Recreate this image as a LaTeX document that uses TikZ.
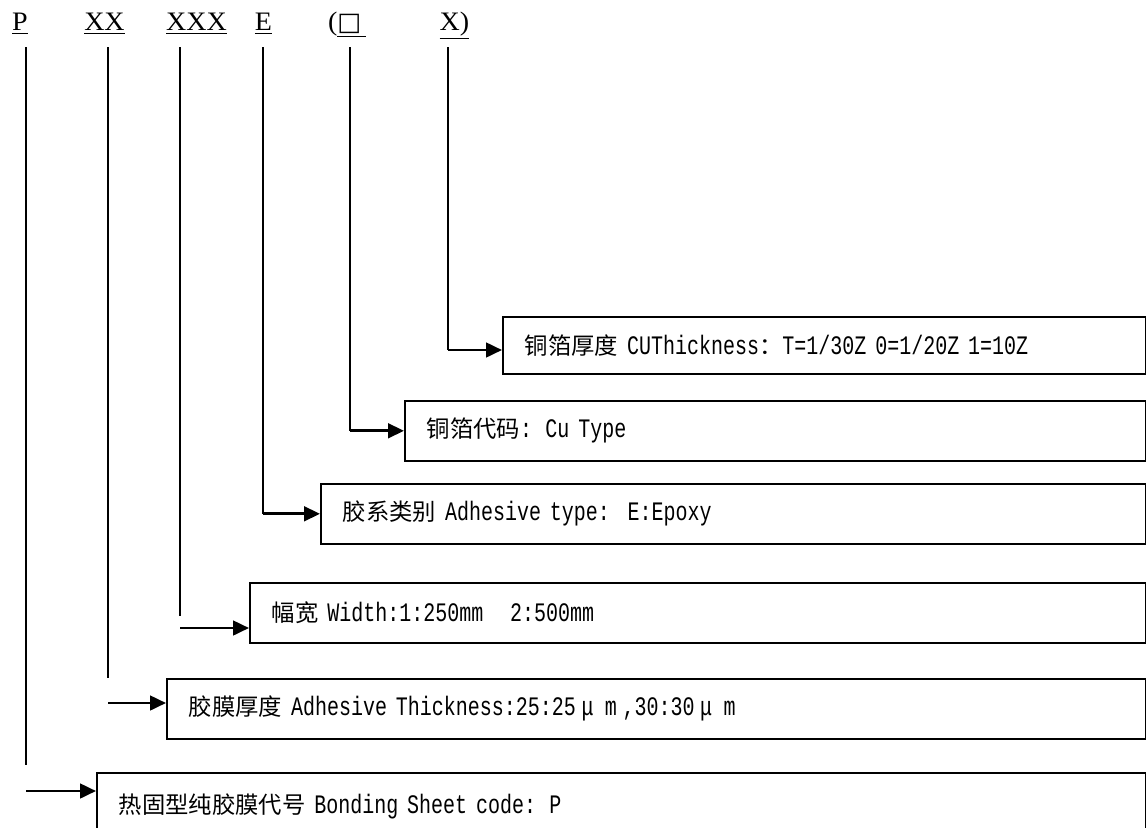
\documentclass[tikz,border=0pt]{standalone}
\usepackage{fontspec}
\setmainfont{Liberation Serif}
\newfontfamily\codefont{Liberation Serif}[FakeStretch=1.05]
\newfontfamily\cjk{Noto Sans CJK SC}
\newfontfamily\halfmono{Liberation Mono}[FakeStretch=0.75]
\newfontfamily\symb{DejaVu Sans}
\usetikzlibrary{arrows.meta}
\newcommand\zh[1]{{\cjk\fontsize{17.5}{20}\selectfont #1}}
\newcommand\fw[1]{\makebox[17.5pt][c]{#1}}

\begin{document}
\begin{tikzpicture}[x=0.75pt,y=-0.75pt,
	codelabel/.style={font=\codefont\fontsize{20}{22}\selectfont, inner sep=0pt, anchor=base},
	infobox/.style={draw, line width=1.2pt, anchor=north west, align=left,
		inner xsep=16.5pt, inner ysep=0pt, minimum height=45pt,
		font=\halfmono\fontsize{20}{22}\selectfont},
	stem/.style={line width=1.3pt},
	arr/.style={line width=2pt, -{Triangle[length=12pt,width=11pt]}}]
	\useasboundingbox (0,0) rectangle (1146,828);
	% code letters
	\node[codelabel] (lP) at (20,31) {\underline{P}};
	\node[codelabel] (lXX) at (104.5,31) {\underline{XX}};
	\node[codelabel] (lXXX) at (196.5,31) {\underline{XXX}};
	\node[codelabel] (lE) at (263.5,31) {\underline{E}};
	\node[codelabel] (lBox) at (347,31) {(\underline{{\symb\fontsize{19}{20}\selectfont □}\,}};
	\node[codelabel] (lX) at (454.5,31) {\underline{X)}};
	% explanation boxes
	\node[infobox, text width=449.25pt, minimum height=42.75pt] (cuthk) at (502,316)
		{\zh{铜箔厚度} CUThickness\zh{：}T=1/30Z 0=1/20Z 1=10Z};
	\node[infobox, text width=522.75pt] (cutype) at (404,400)
		{\zh{铜箔代码}: Cu Type};
	\node[infobox, text width=585.75pt] (adtype) at (320,483)
		{\zh{胶系类别} Adhesive type:\ \ E:Epoxy};
	\node[infobox, text width=639pt] (width) at (249,582)
		{\zh{幅宽} Width:1:250mm\ \ \ 2:500mm};
	\node[infobox, text width=701.25pt] (adthk) at (166,678)
		{\zh{胶膜厚度} Adhesive Thickness:25:25\fw{μ}\fw{m},30:30\fw{μ}\fw{m}};
	\node[infobox, text width=753.75pt, minimum height=51pt] (bond) at (96,772)
		{\raisebox{-3pt}{\zh{热固型纯胶膜代号} Bonding Sheet code: P}};
	% stems
	\coordinate (tP) at (26,47);
	\coordinate (tXX) at (108,47);
	\coordinate (tXXX) at (180,47);
	\coordinate (tE) at (263,47);
	\coordinate (tBox) at (350,47);
	\coordinate (tX) at (448,47);
	\coordinate (eP) at (26,765);
	\coordinate (eXX) at (108,678);
	\coordinate (eXXX) at (180,616);
	\coordinate (kX) at (448,350);
	\draw[stem] (tP) -- (eP);
	\draw[stem] (tXX) -- (eXX);
	\draw[stem] (tXXX) -- (eXXX);
	% arrows
	\coordinate (sP) at (26,791);
	\coordinate (sXX) at (108,703);
	\coordinate (sXXX) at (180,628);
	\draw[arr] (sP) -- (sP -| bond.west);
	\draw[arr] (sXX) -- (sXX -| adthk.west);
	\draw[arr] (sXXX) -- (sXXX -| width.west);
	\draw[stem] (tE) -- (tE |- adtype.west);
	\draw[arr] (tE |- adtype.west) -- (adtype.west);
	\draw[stem] (tBox) -- (tBox |- cutype.west);
	\draw[arr] (tBox |- cutype.west) -- (cutype.west);
	\draw[stem] (tX) -- (kX);
	\draw[arr] (kX) -- (kX -| cuthk.west);
\end{tikzpicture}
\end{document}
